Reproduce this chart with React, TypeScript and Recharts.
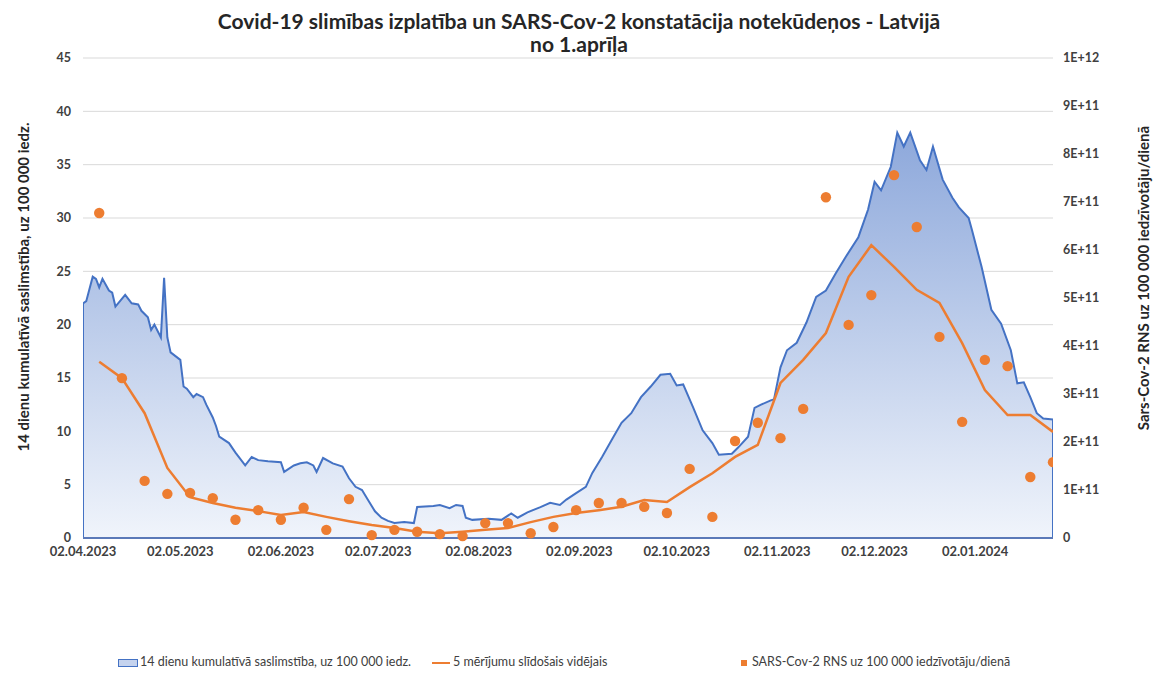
import React from 'react';
import { ComposedChart, Area, Line, Scatter, XAxis, YAxis, CartesianGrid } from 'recharts';

// Day offsets counted from 02.04.2023
const tickDays = [0, 30, 61, 91, 122, 153, 183, 214, 244, 275];
const tickLabels = ['02.04.2023', '02.05.2023', '02.06.2023', '02.07.2023', '02.08.2023', '02.09.2023', '02.10.2023', '02.11.2023', '02.12.2023', '02.01.2024'];

// 14-day cumulative incidence per 100 000
const areaDays = [0, 0, 1, 3, 4, 5, 6, 8, 9, 10, 13, 14, 15, 17, 18, 20, 21, 22, 24, 25, 26, 27, 30, 31, 32, 34, 35, 37, 38, 40, 41, 42, 45, 47, 50, 52, 54, 57, 61, 62, 65, 67, 69, 71, 72, 74, 77, 80, 82, 84, 86, 88, 90, 92, 94, 96, 99, 102, 103, 108, 110, 113, 115, 117, 118, 120, 125, 129, 132, 134, 137, 141, 144, 147, 149, 152, 155, 157, 160, 163, 166, 169, 172, 175, 178, 181, 183, 185, 188, 191, 194, 196, 200, 202, 205, 207, 209, 212, 213, 215, 217, 220, 223, 226, 229, 232, 235, 239, 242, 244, 246, 249, 251, 253, 255, 258, 260, 262, 265, 268, 270, 273, 274, 277, 280, 283, 286, 288, 290, 292, 294, 296, 299, 299];
const areaCases = [0, 22.0, 22.2, 24.5, 24.3, 23.5, 24.3, 23.2, 23.0, 21.7, 22.8, 22.4, 22.0, 21.9, 21.3, 20.7, 19.5, 20.0, 18.8, 24.4, 18.8, 17.4, 16.7, 14.2, 14.0, 13.2, 13.5, 13.2, 12.5, 11.3, 10.5, 9.5, 8.9, 8.0, 6.8, 7.6, 7.3, 7.2, 7.1, 6.2, 6.8, 7.0, 7.1, 6.8, 6.2, 7.5, 7.0, 6.7, 5.6, 4.8, 4.5, 3.5, 2.5, 1.9, 1.6, 1.4, 1.5, 1.4, 2.9, 3.0, 3.1, 2.8, 3.1, 3.0, 1.9, 1.7, 1.8, 1.7, 2.3, 1.9, 2.4, 2.9, 3.3, 3.1, 3.6, 4.2, 4.8, 6.1, 7.6, 9.2, 10.8, 11.7, 13.2, 14.2, 15.3, 15.4, 14.3, 14.4, 12.3, 10.1, 8.9, 7.8, 7.9, 8.5, 9.5, 12.2, 12.5, 12.9, 13.0, 16.0, 17.6, 18.3, 20.2, 22.6, 23.2, 24.8, 26.3, 28.2, 30.8, 33.4, 32.6, 34.8, 38.0, 36.7, 38.0, 35.4, 34.5, 36.7, 33.6, 31.9, 31.0, 30.0, 28.9, 25.4, 21.4, 20.1, 17.6, 14.5, 14.6, 13.2, 11.7, 11.2, 11.1, 0];

// Weekly wastewater measurements
const rnsDays = [5, 12, 19, 26, 33, 40, 47, 54, 61, 68, 75, 82, 89, 96, 103, 110, 117, 124, 131, 138, 145, 152, 159, 166, 173, 180, 187, 194, 201, 208, 215, 222, 229, 236, 243, 250, 257, 264, 271, 278, 285, 292, 299];
const rnsValues = [6.77e11, 3.33e11, 1.19e11, 0.92e11, 0.94e11, 0.83e11, 0.38e11, 0.58e11, 0.38e11, 0.63e11, 0.17e11, 0.81e11, 0.06e11, 0.17e11, 0.13e11, 0.08e11, 0.04e11, 0.31e11, 0.31e11, 0.10e11, 0.23e11, 0.58e11, 0.73e11, 0.73e11, 0.65e11, 0.52e11, 1.44e11, 0.44e11, 2.02e11, 2.40e11, 2.08e11, 2.69e11, 7.10e11, 4.44e11, 5.06e11, 7.56e11, 6.48e11, 4.19e11, 2.42e11, 3.71e11, 3.58e11, 1.27e11, 1.58e11];
const movingAvg = [3.67e11, 3.33e11, 2.6e11, 1.46e11, 0.85e11, 0.73e11, 0.63e11, 0.56e11, 0.48e11, 0.54e11, 0.44e11, 0.35e11, 0.27e11, 0.21e11, 0.13e11, 0.10e11, 0.13e11, 0.17e11, 0.21e11, 0.33e11, 0.44e11, 0.52e11, 0.58e11, 0.65e11, 0.79e11, 0.75e11, 1.06e11, 1.35e11, 1.69e11, 1.94e11, 3.23e11, 3.71e11, 4.27e11, 5.44e11, 6.10e11, 5.65e11, 5.17e11, 4.90e11, 4.06e11, 3.08e11, 2.56e11, 2.56e11, 2.21e11];

const leftTicks = [0, 5, 10, 15, 20, 25, 30, 35, 40, 45];
const rightTicks = [0, 1e11, 2e11, 3e11, 4e11, 5e11, 6e11, 7e11, 8e11, 9e11, 1e12];

const areaData = areaDays.map((d, i) => ({ d, v: areaCases[i] }));
const rnsData = rnsDays.map((d, i) => ({ d, v: rnsValues[i] }));
const maData = rnsDays.map((d, i) => ({ d, v: movingAvg[i] }));

const W = 1158;
const H = 677;
const FONT = 'Lato, "Liberation Sans", sans-serif';
const ORANGE = '#ED7D31';
const BLUE = '#4472C4';

const xTickStyle = { fontSize: 13, fontWeight: 700, fill: '#404040', fontFamily: FONT };
const yTickStyle = { fontSize: 12.5, fontWeight: 700, fill: '#404040', fontFamily: FONT };

const fmtRight = (v: number) => {
  if (v === 0) return '0';
  if (v >= 1e12) return '1E+12';
  return `${Math.round(v / 1e11)}E+11`;
};
const fmtDate = (v: number) => {
  const i = tickDays.indexOf(v);
  return i >= 0 ? tickLabels[i] : '';
};

const Dot = (props: any) => {
  const { cx, cy } = props;
  if (cx == null || cy == null) return null;
  return <circle cx={cx} cy={cy} r={5.2} fill={ORANGE} />;
};

export default function App() {
  return (
    <div style={{ position: 'absolute', left: 0, top: 0, width: W, height: H, background: '#fff', fontFamily: FONT, overflow: 'hidden' }}>
      <ComposedChart width={W} height={H} margin={{ top: 58, right: 55, bottom: 109, left: 43 }}>
        <defs>
          <linearGradient id="areaFill" x1="0" y1="0" x2="0" y2="1">
            <stop offset="0%" stopColor="#8DA8DB" />
            <stop offset="100%" stopColor="#F0F4FB" />
          </linearGradient>
        </defs>
        <CartesianGrid yAxisId="left" horizontal vertical={false} stroke="#D9D9D9" />
        <XAxis
          xAxisId={0}
          type="number"
          dataKey="d"
          domain={[0, 299]}
          ticks={tickDays}
          tickFormatter={fmtDate}
          interval={0}
          height={30}
          tickLine={false}
          tickSize={7}
          axisLine={{ stroke: '#5B79B8', strokeWidth: 2 }}
          tick={xTickStyle}
          allowDataOverflow
        />
        <YAxis
          yAxisId="left"
          orientation="left"
          domain={[0, 45]}
          ticks={leftTicks}
          interval={0}
          width={40}
          axisLine={false}
          tickLine={false}
          tickSize={10}
          tick={yTickStyle}
        />
        <YAxis
          yAxisId="right"
          orientation="right"
          domain={[0, 1e12]}
          ticks={rightTicks}
          interval={0}
          width={50}
          axisLine={false}
          tickLine={false}
          tickSize={8}
          tick={{ ...yTickStyle, textAnchor: 'start' }}
          tickFormatter={fmtRight}
        />
        <Area
          yAxisId="left"
          data={areaData}
          dataKey="v"
          type="linear"
          stroke={BLUE}
          strokeWidth={2}
          fill="url(#areaFill)"
          fillOpacity={1}
          isAnimationActive={false}
          dot={false}
          activeDot={false}
        />
        <Line
          yAxisId="right"
          data={maData}
          dataKey="v"
          type="linear"
          stroke={ORANGE}
          strokeWidth={2.5}
          dot={false}
          activeDot={false}
          isAnimationActive={false}
        />
        <Scatter
          yAxisId="right"
          data={rnsData}
          dataKey="v"
          fill={ORANGE}
          shape={Dot}
          isAnimationActive={false}
        />
      </ComposedChart>

      <div style={{ position: 'absolute', left: 0, top: 9, width: W, textAlign: 'center', fontWeight: 700, fontSize: 21, lineHeight: '23px', color: '#262626' }}>
        <div>Covid-19 slimības izplatība un SARS-Cov-2 konstatācija notekūdeņos - Latvijā</div>
        <div>no 1.aprīļa</div>
      </div>

      <div style={{ position: 'absolute', left: 23, top: 287, transform: 'translate(-50%, -50%) rotate(-90deg)', whiteSpace: 'nowrap', fontSize: 15, fontWeight: 700, color: '#262626' }}>
        14 dienu kumulatīvā saslimstība, uz 100 000 iedz.
      </div>
      <div style={{ position: 'absolute', left: 1143, top: 278, transform: 'translate(-50%, -50%) rotate(-90deg)', whiteSpace: 'nowrap', fontSize: 15, fontWeight: 700, color: '#262626' }}>
        Sars-Cov-2 RNS uz 100 000 iedzīvotāju/dienā
      </div>

      <div style={{ position: 'absolute', left: 0, top: 654, width: W, height: 18, fontSize: 12.5, color: '#404040' }}>
        <div style={{ position: 'absolute', left: 118, top: 5, width: 18, height: 6, background: '#C5D3EE', border: `1.5px solid ${BLUE}` }} />
        <div style={{ position: 'absolute', left: 140, top: 0, whiteSpace: 'nowrap' }}>14 dienu kumulatīvā saslimstība, uz 100 000 iedz.</div>
        <div style={{ position: 'absolute', left: 432, top: 8, width: 18, height: 2, background: ORANGE }} />
        <div style={{ position: 'absolute', left: 453, top: 0, whiteSpace: 'nowrap' }}>5 mērījumu slīdošais vidējais</div>
        <div style={{ position: 'absolute', left: 741, top: 6, width: 6, height: 6, background: ORANGE }} />
        <div style={{ position: 'absolute', left: 752, top: 0, whiteSpace: 'nowrap' }}>SARS-Cov-2 RNS uz 100 000 iedzīvotāju/dienā</div>
      </div>
    </div>
  );
}
